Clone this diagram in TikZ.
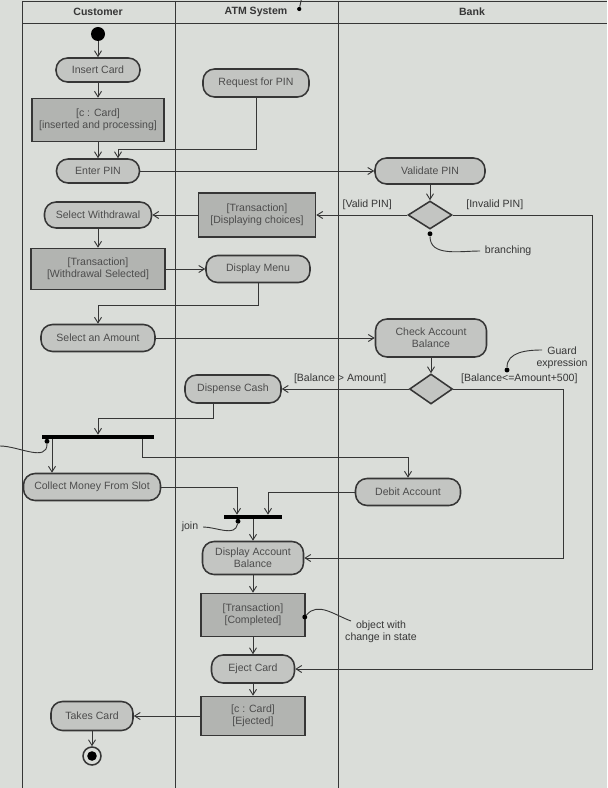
\documentclass[tikz,border=0pt]{standalone}
\usepackage{fontspec}
\setmainfont{Liberation Sans}
\usetikzlibrary{arrows.meta,shapes.geometric,calc}
\definecolor{paper}{HTML}{DADDD9}
\definecolor{actfill}{HTML}{C3C5C2}
\definecolor{objfill}{HTML}{B2B4B1}
\definecolor{ink}{HTML}{363636}
\definecolor{softink}{HTML}{4C4C4C}
\begin{document}
\begin{tikzpicture}[x=0.025cm,y=0.025cm,
		font=\fontsize{7.5}{8.6}\selectfont,
		every node/.style={text=ink},
		lanehead/.style={font=\fontsize{7.5}{9}\selectfont\bfseries},
		lane/.style={draw=ink,line width=0.7pt},
		act/.style={draw=ink,line width=1.1pt,fill=actfill,rounded corners=2.9mm,align=center,inner sep=1pt,text=softink},
		obj/.style={draw=ink,line width=1.1pt,fill=objfill,align=center,inner sep=1pt,text=softink},
		decide/.style={diamond,draw=ink,line width=1.1pt,fill=actfill,inner sep=0pt},
		bar/.style={fill=black,inner sep=0pt,minimum height=0.1cm},
		flow/.style={draw=ink,line width=0.65pt,-{Straight Barb[length=4pt,width=5pt]}},
		remark/.style={draw=ink,line width=0.65pt},
		dotmark/.style={circle,fill=black,inner sep=0pt,minimum size=3.5pt}]
		\fill[paper] (0,0) rectangle (607,-788);
		\useasboundingbox (0,0) rectangle (607,-788);
		\draw[lane] (22,-1) -- (607,-1);
		\draw[lane] (22,-23) -- (607,-23);
		\draw[lane] (22,-1) -- (22,-788);
		\draw[lane] (175,-1) -- (175,-788);
		\draw[lane] (338,-1) -- (338,-788);
		\node[lanehead] (hcust) at (98,-12) {Customer};
		\node[lanehead] (hatm) at (256,-12) {ATM System};
		\node[lanehead] (hbank) at (472,-12) {Bank};
		\node[dotmark,minimum size=3pt] (hdot) at ($(hatm.east)+(7,3)$) {};
		\draw[remark] (hdot) -- ++(2,9);

		\node[circle,fill=black,minimum size=0.35cm,inner sep=0pt] (init) at (98,-34) {};
		\node[act,minimum width=2.1cm,minimum height=0.6cm] (insert) at (98,-70) {Insert Card};
		\node[obj,minimum width=3.3cm,minimum height=1.075cm] (cardin) at (98,-120) {[c : Card]\\{}[inserted and processing]};
		\node[act,minimum width=2.65cm,minimum height=0.7cm] (askpin) at (256,-83) {Request for PIN};
		\node[act,minimum width=2.075cm,minimum height=0.6cm] (enterpin) at (98,-171) {Enter PIN};
		\node[act,minimum width=2.75cm,minimum height=0.65cm] (checkpin) at (430,-171) {Validate PIN};
		\node[decide,minimum width=1.1cm,minimum height=0.7cm] (pinok) at (430,-215) {};
		\node[obj,minimum width=2.925cm,minimum height=1.1cm] (choices) at (257,-215) {[Transaction]\\{}[Displaying choices]};
		\node[act,minimum width=2.675cm,minimum height=0.65cm] (selw) at (98,-215) {Select Withdrawal};
		\node[obj,minimum width=3.35cm,minimum height=1.025cm] (wsel) at (98,-269) {[Transaction]\\{}[Withdrawal Selected]};
		\node[act,minimum width=2.6cm,minimum height=0.675cm] (menu) at (258,-269) {Display Menu};
		\node[act,minimum width=2.85cm,minimum height=0.675cm] (amount) at (98,-338) {Select an Amount};
		\node[act,minimum width=2.775cm,minimum height=0.95cm] (balance) at (431,-338) {Check Account\\Balance};
		\node[decide,minimum width=1.075cm,minimum height=0.75cm] (enough) at (431,-389) {};
		\node[act,minimum width=2.4cm,minimum height=0.7cm] (cash) at (233,-389) {Dispense Cash};
		\node[bar,minimum width=2.8cm] (fork) at (98,-437) {};
		\node[act,minimum width=3.425cm,minimum height=0.675cm] (collect) at (92,-487) {Collect Money From Slot};
		\node[act,minimum width=2.625cm,minimum height=0.675cm] (debit) at (408,-492) {Debit Account};
		\node[bar,minimum width=1.45cm] (join) at (253,-517) {};
		\node[act,minimum width=2.525cm,minimum height=0.825cm] (showbal) at (253,-558) {Display Account\\Balance};
		\node[obj,minimum width=2.6cm,minimum height=1.075cm] (done) at (253,-615) {[Transaction]\\{}[Completed]};
		\node[act,minimum width=2.075cm,minimum height=0.7cm] (eject) at (253,-669) {Eject Card};
		\node[obj,minimum width=2.6cm,minimum height=0.975cm] (cardout) at (253,-716) {[c : Card]\\{}[Ejected]};
		\node[act,minimum width=2.05cm,minimum height=0.725cm] (takes) at (92,-716) {Takes Card};
		\node[circle,draw=ink,line width=1.1pt,fill=paper,minimum size=0.45cm,inner sep=0pt] (final) at (92,-756) {};
		\node[circle,fill=black,minimum size=0.24cm,inner sep=0pt] (finaldot) at (final) {};

		\draw[flow] (init) -- (insert);
		\draw[flow] (insert) -- (cardin);
		\draw[flow] (cardin) -- (enterpin);
		\draw[flow] (askpin.south) -- ++(0,-52) -| ($(enterpin.north)+(20,0)$);
		\draw[flow] (enterpin) -- (checkpin);
		\draw[flow] (checkpin) -- (pinok);
		\draw[flow] (pinok.west) -- node[above,pos=0.44] (lvalid) {[Valid PIN]} (choices.east);
		\draw[flow] (pinok.east) -- node[above,pos=0.3] (linvalid) {[Invalid PIN]} ++(140,0) |- (eject.east);
		\draw[flow] (choices) -- (selw);
		\draw[flow] (selw) -- (wsel);
		\draw[flow] (wsel) -- (menu);
		\draw[flow] (menu.south) -- ++(0,-22) -| (amount.north);
		\draw[flow] (amount) -- (balance);
		\draw[flow] (balance) -- (enough);
		\draw[flow] (enough.west) -- node[above,pos=0.54] (lmore) {[Balance > Amount]} (cash.east);
		\draw[flow] (enough.east) -- node[above,pos=0.6] (lless) {[Balance<=Amount+500]} ++(110,0) |- (showbal.east);
		\draw[flow] ($(cash.south)+(-20,0)$) -- ++(0,-15) -| (fork.north);
		\coordinate (forkl) at ($(fork.south)+(-46,0)$);
		\coordinate (forkr) at ($(fork.south)+(44,0)$);
		\draw[flow] (forkl) -- (forkl |- collect.north);
		\draw[flow] (forkr) -- ++(0,-18) -| (debit.north);
		\draw[flow] (collect.east) -| ($(join.north)+(-16,0)$);
		\draw[flow] (debit.west) -| ($(join.north)+(15,0)$);
		\draw[flow] (join) -- (showbal);
		\draw[flow] (showbal) -- (done);
		\draw[flow] (done) -- (eject);
		\draw[flow] (eject) -- (cardout);
		\draw[flow] (cardout) -- (takes);
		\draw[flow] (takes) -- (final);

		\node[dotmark] (brdot) at ($(pinok.south)+(0,-4)$) {};
		\node[anchor=west] (brtxt) at (480,-251) {branching};
		\draw[remark] (brdot) to[out=-90,in=180] (brtxt.west);
		\node[align=center] (guard) at (562,-358) {Guard\\expression};
		\node[dotmark] (gdot) at (507,-370) {};
		\draw[remark] (gdot) to[out=90,in=180] ($(guard.center)+(-20,8)$);
		\coordinate (forkfree) at (0,-446);
		\node[dotmark] (fdot) at ($(fork.south)+(-51,-2)$) {};
		\draw[remark] (forkfree) to[out=0,in=-90] (fdot);
		\node (jointxt) at (190,-527) {join};
		\node[dotmark] (jdot) at ($(join.south)+(-15,-2)$) {};
		\draw[remark] (jointxt.east) to[out=0,in=-100] (jdot);
		\node[align=center] (objtxt) at (381,-632) {object with\\change in state};
		\node[dotmark] (odot) at ($(done.east)+(-1,-2)$) {};
		\draw[remark] (odot) to[out=50,in=160] ($(objtxt.center)+(-30,11)$);
\end{tikzpicture}
\end{document}
